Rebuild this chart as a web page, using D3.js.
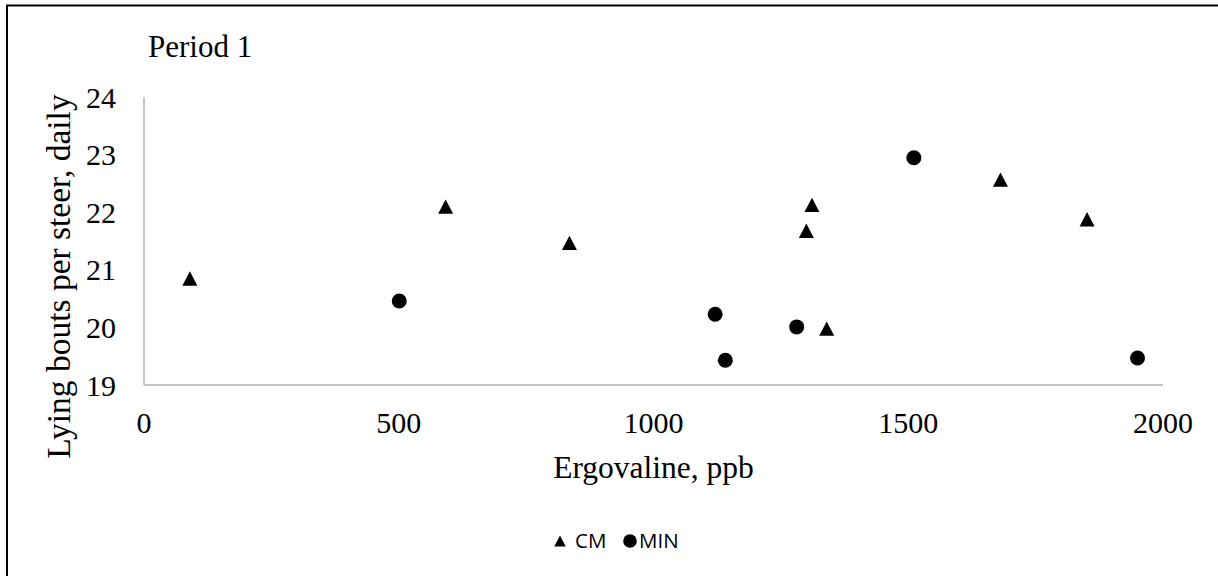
<!DOCTYPE html>
<html>
<head>
<meta charset="utf-8">
<script src="https://cdn.jsdelivr.net/npm/d3@7"></script>
<style>
  html, body { margin: 0; padding: 0; background: #fff; }
  svg { display: block; }
</style>
</head>
<body>
<script>
// Ergovaline exposure vs. daily lying bouts, period 1
const cmErgovaline  = [90, 592, 835, 1300, 1311, 1340, 1681, 1851];
const cmLyingBouts  = [20.85, 22.10, 21.47, 21.68, 22.13, 19.98, 22.57, 21.88];
const minErgovaline = [501, 1121, 1141, 1281, 1511, 1950];
const minLyingBouts = [20.46, 20.23, 19.43, 20.01, 22.95, 19.47];
const xTicks = [0, 500, 1000, 1500, 2000];
const yTicks = [19, 20, 21, 22, 23, 24];
const seriesNames = ["CM", "MIN"];

const W = 1218, H = 576;
const plot = { left: 144, right: 1163, top: 97.3, bottom: 385 };
const serif = "'Liberation Serif', 'Times New Roman', serif";
const sans = "'Open Sans', 'Noto Sans', sans-serif";

const svg = d3.select("body").append("svg")
  .attr("width", W).attr("height", H);

// outer frame (right/bottom edges lie outside the canvas)
svg.append("rect")
  .attr("x", 7).attr("y", 5.5)
  .attr("width", W + 20).attr("height", H + 20)
  .attr("fill", "#fff").attr("stroke", "#000").attr("stroke-width", 2);

const x = d3.scaleLinear().domain([0, 2000]).range([plot.left, plot.right]);
const y = d3.scaleLinear().domain([19, 24]).range([plot.bottom, plot.top]);

// Triangle centred on its bounding box
const boxTriangle = {
  draw(ctx, size) {
    const s = Math.sqrt(size);
    const hw = s / 2, hh = s * 0.48;
    ctx.moveTo(0, -hh);
    ctx.lineTo(hw, hh);
    ctx.lineTo(-hw, hh);
    ctx.closePath();
  }
};

// axis lines
const axisColor = "#c6c6c6";
svg.append("line")
  .attr("x1", x(0)).attr("x2", x(0))
  .attr("y1", y(24)).attr("y2", y(19))
  .attr("stroke", axisColor).attr("stroke-width", 2);
svg.append("line")
  .attr("x1", x(0)).attr("x2", x(2000))
  .attr("y1", y(19)).attr("y2", y(19))
  .attr("stroke", axisColor).attr("stroke-width", 2);

// tick labels
svg.append("g").selectAll("text").data(yTicks).join("text")
  .attr("x", 116).attr("y", d => y(d)).attr("dy", "0.35em")
  .attr("text-anchor", "end")
  .attr("font-family", serif).attr("font-size", 30)
  .text(d => d);

svg.append("g").selectAll("text").data(xTicks).join("text")
  .attr("x", d => x(d)).attr("y", 433)
  .attr("text-anchor", "middle")
  .attr("font-family", serif).attr("font-size", 30)
  .text(d => d);

// axis titles
svg.append("text")
  .attr("x", (plot.left + plot.right) / 2).attr("y", 478)
  .attr("text-anchor", "middle")
  .attr("font-family", serif).attr("font-size", 31.5)
  .text("Ergovaline, ppb");

svg.append("text")
  .attr("transform", "translate(70,276.5) rotate(-90)")
  .attr("text-anchor", "middle")
  .attr("font-family", serif).attr("font-size", 33.5)
  .text("Lying bouts per steer, daily");

svg.append("text")
  .attr("x", 148).attr("y", 57)
  .attr("font-family", serif).attr("font-size", 31)
  .text("Period 1");

// markers
const cmPoints = cmErgovaline.map((v, i) => [v, cmLyingBouts[i]]);
const minPoints = minErgovaline.map((v, i) => [v, minLyingBouts[i]]);

const tri = d3.symbol().type(boxTriangle).size(15 * 15);
svg.append("g").selectAll("path").data(cmPoints).join("path")
  .attr("transform", d => `translate(${x(d[0])},${y(d[1])})`)
  .attr("d", tri)
  .attr("fill", "#000");

svg.append("g").selectAll("circle").data(minPoints).join("circle")
  .attr("cx", d => x(d[0])).attr("cy", d => y(d[1]))
  .attr("r", 7.5)
  .attr("fill", "#000");

// legend
const legend = svg.append("g").attr("transform", "translate(0,541)");
legend.append("path")
  .attr("transform", "translate(560,0)")
  .attr("d", d3.symbol().type(boxTriangle).size(11.5 * 11.5))
  .attr("fill", "#000");
legend.append("text")
  .attr("x", 575).attr("y", 0).attr("dy", "0.35em")
  .attr("font-family", sans).attr("font-size", 20.5)
  .text(seriesNames[0]);
legend.append("circle")
  .attr("cx", 630).attr("cy", 0).attr("r", 6.8)
  .attr("fill", "#000");
legend.append("text")
  .attr("x", 639).attr("y", 0).attr("dy", "0.35em")
  .attr("font-family", sans).attr("font-size", 20.5)
  .text(seriesNames[1]);
</script>
</body>
</html>
